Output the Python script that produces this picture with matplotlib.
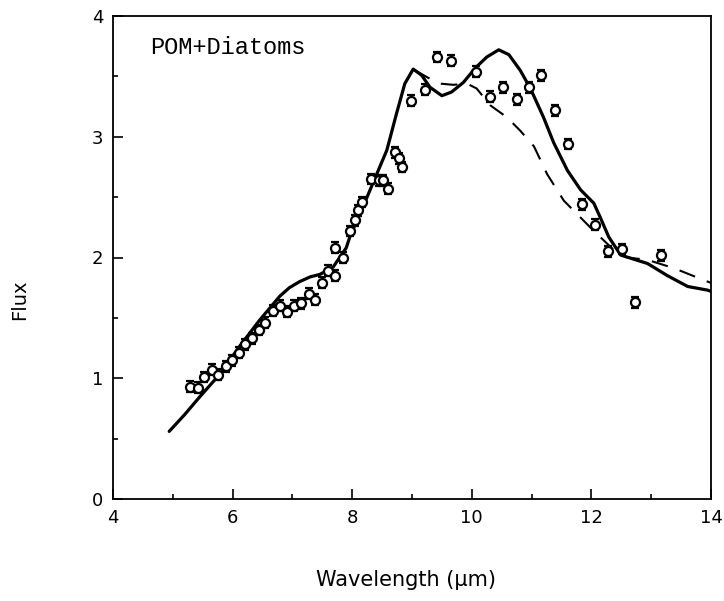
import matplotlib
matplotlib.use("Agg")
import matplotlib.pyplot as plt
import numpy as np

# Observed data points (wavelength, flux)
obs_x = [5.28, 5.42, 5.53, 5.65, 5.76, 5.89, 5.99, 6.10, 6.21, 6.33, 6.44, 6.55,
         6.67, 6.79, 6.91, 7.02, 7.15, 7.27, 7.37, 7.50, 7.59, 7.71, 7.72, 7.85,
         7.96, 8.04, 8.10, 8.16, 8.31, 8.45, 8.52, 8.60, 8.71, 8.79, 8.84, 8.98,
         9.21, 9.41, 9.65, 10.07, 10.31, 10.52, 10.75, 10.96, 11.16, 11.39, 11.61,
         11.85, 12.06, 12.27, 12.51, 12.73, 13.17]
obs_y = [0.93, 0.92, 1.01, 1.07, 1.03, 1.10, 1.15, 1.21, 1.28, 1.33, 1.40, 1.46,
         1.56, 1.60, 1.55, 1.60, 1.62, 1.70, 1.65, 1.79, 1.89, 1.85, 2.08, 2.00,
         2.22, 2.31, 2.39, 2.46, 2.65, 2.64, 2.64, 2.57, 2.87, 2.82, 2.75, 3.30,
         3.39, 3.66, 3.63, 3.54, 3.33, 3.41, 3.31, 3.41, 3.51, 3.22, 2.94,
         2.44, 2.27, 2.05, 2.07, 1.63, 2.02]
obs_err = [0.045] * len(obs_x)

# Model 1 (solid line)
solid_x = [4.94, 5.20, 5.44, 5.78, 6.11, 6.45, 6.79, 6.95, 7.12, 7.30, 7.46, 7.68,
           7.90, 7.96, 8.24, 8.41, 8.58, 8.74, 8.88, 9.02, 9.16, 9.30, 9.50, 9.66,
           9.86, 10.06, 10.25, 10.45, 10.62, 10.81, 10.98, 11.20, 11.37, 11.60,
           11.82, 12.04, 12.15, 12.29, 12.49, 12.94, 13.27, 13.61, 13.94, 14.0]
solid_y = [0.56, 0.70, 0.84, 1.03, 1.26, 1.48, 1.68, 1.75, 1.80, 1.84, 1.86, 1.92,
           2.08, 2.17, 2.49, 2.69, 2.89, 3.19, 3.44, 3.56, 3.51, 3.41, 3.34, 3.37,
           3.45, 3.57, 3.66, 3.72, 3.68, 3.55, 3.40, 3.16, 2.95, 2.72,
           2.56, 2.45, 2.33, 2.17, 2.02, 1.95, 1.85, 1.76, 1.73, 1.72]

# Model 2 (dashed line)
dash_x = [9.05, 9.30, 9.47, 9.69, 9.92, 10.08, 10.31, 10.59, 10.81, 11.04, 11.26,
          11.54, 11.76, 12.04, 12.38, 12.60, 12.94, 13.39, 13.89, 14.0]
dash_y = [3.55, 3.48, 3.44, 3.43, 3.44, 3.40, 3.26, 3.16, 3.05, 2.92, 2.69,
          2.47, 2.36, 2.22, 2.06, 2.00, 1.98, 1.91, 1.81, 1.79]

x_ticks = [4, 6, 8, 10, 12, 14]
y_ticks = [0, 1, 2, 3, 4]

fig = plt.figure(figsize=(7.24, 6.01), dpi=100)
ax = fig.add_axes([113/724, 1-499/601, 598/724, 483/601])

ax.plot(solid_x, solid_y, color="black", lw=2.3, solid_joinstyle="round",
        solid_capstyle="round")
ax.plot(dash_x, dash_y, color="black", lw=1.5, dashes=(8, 6))
ax.errorbar(obs_x, obs_y, yerr=obs_err, fmt="o", mfc="white", mec="black",
            ms=6.5, mew=1.6, ecolor="black", elinewidth=1.3, capsize=3.2,
            capthick=1.6, zorder=3)

ax.set_xlim(4, 14)
ax.set_ylim(0, 4)
ax.set_xticks(x_ticks)
ax.set_yticks(y_ticks)
ax.set_xticks([5, 7, 9, 11, 13], minor=True)
ax.set_yticks([0.5, 1.5, 2.5, 3.5], minor=True)
ax.tick_params(which="both", direction="in", width=1.2, top=False, right=False,
               labelsize=13)
ax.tick_params(which="major", length=7, pad=7)
ax.tick_params(which="minor", length=3.5)
for lab in ax.get_xticklabels() + ax.get_yticklabels():
    lab.set_family("DejaVu Sans")
for s in ax.spines.values():
    s.set_linewidth(1.3)

ax.set_xlabel("Wavelength (μm)", fontsize=15, family="DejaVu Sans", va="center")
ax.xaxis.set_label_coords(0.49, -0.168)
ax.set_ylabel("Flux", fontsize=14, family="DejaVu Sans", va="center")
ax.yaxis.set_label_coords(-0.156, 0.412)

ax.text(0.062, 0.934, "POM+Diatoms", transform=ax.transAxes,
        fontsize=17, family="Liberation Mono", va="center", ha="left")

fig.savefig("out.png", dpi=100)
